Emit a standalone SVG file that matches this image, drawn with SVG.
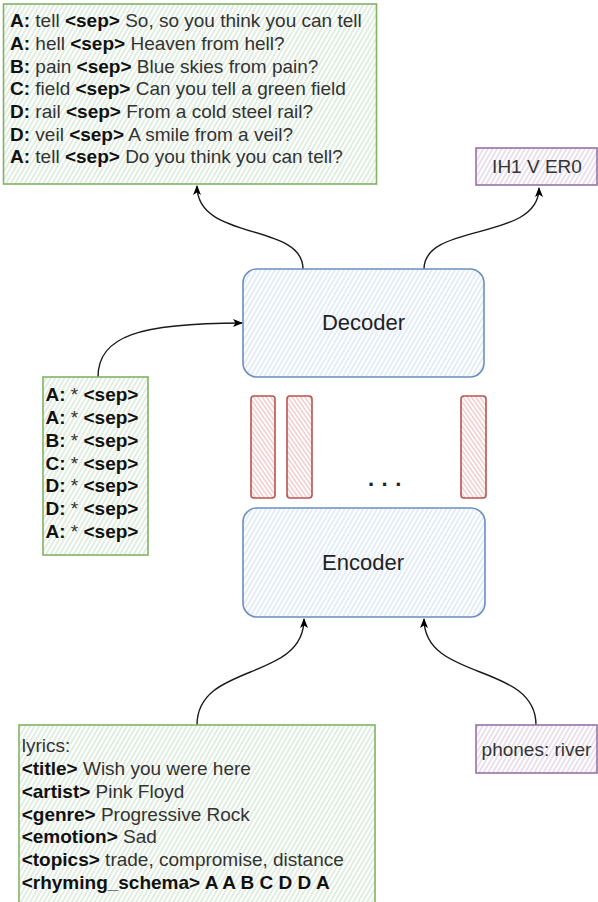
<svg xmlns="http://www.w3.org/2000/svg" width="598" height="902" viewBox="0 0 598 902">
<style>
  .t { font-family: "Liberation Sans", Arial, sans-serif; font-size: 19px; fill: #333333; }
  .b { font-weight: bold; fill: #111111; }
  .big { font-family: "Liberation Sans", Arial, sans-serif; font-size: 22px; fill: #222222; }
  .green { fill: url(#hG); stroke: #82b366; stroke-width: 1.6; }
  .blue { fill: url(#hB); stroke: #6c8ebf; stroke-width: 1.6; }
  .red { fill: url(#hR); stroke: #b85450; stroke-width: 1.6; }
  .purple { fill: url(#hP); stroke: #9673a6; stroke-width: 1.6; }
  .conn { fill: none; stroke: #1a1a1a; stroke-width: 1.4; marker-end: url(#arr); }
</style>
<defs>
  <pattern id="hG" width="4" height="10" patternUnits="userSpaceOnUse" patternTransform="rotate(30)">
    <rect width="4" height="10" fill="#ffffff"/>
    <line x1="1" y1="0" x2="1" y2="10" stroke="#c3dbc1" stroke-width="1"/>
  </pattern>
  <pattern id="hB" width="4" height="10" patternUnits="userSpaceOnUse" patternTransform="rotate(30)">
    <rect width="4" height="10" fill="#ffffff"/>
    <line x1="1" y1="0" x2="1" y2="10" stroke="#c8d9f0" stroke-width="1"/>
  </pattern>
  <pattern id="hR" width="3.5" height="10" patternUnits="userSpaceOnUse" patternTransform="rotate(-35)">
    <rect width="3.5" height="10" fill="#ffffff"/>
    <line x1="1" y1="0" x2="1" y2="10" stroke="#eeb9b7" stroke-width="1.1"/>
  </pattern>
  <pattern id="hP" width="4" height="10" patternUnits="userSpaceOnUse" patternTransform="rotate(30)">
    <rect width="4" height="10" fill="#ffffff"/>
    <line x1="1" y1="0" x2="1" y2="10" stroke="#d2c3da" stroke-width="1"/>
  </pattern>
  <marker id="arr" viewBox="0 0 10 8" refX="9" refY="4" markerWidth="10" markerHeight="8" markerUnits="userSpaceOnUse" orient="auto">
    <path d="M0,0 L10,4 L0,8 L2.5,4 Z" fill="#000000"/>
  </marker>
</defs>

<g id="connectors">
  <path class="conn" d="M303,269 C303,222 197,242 197,186"/>
  <path class="conn" d="M424,269 C424,222 539,242 539,188"/>
  <path class="conn" d="M98,377 C98,336 140,323 242,323"/>
  <path class="conn" d="M197,725 C197,662 304,682 304,619"/>
  <path class="conn" d="M536,725 C536,662 424,682 424,619"/>
</g>

<g id="output-lyrics">
  <rect class="green" x="3.5" y="4" width="373" height="180"/>
  <text class="t" x="10" y="27.3"><tspan class="b">A:</tspan> tell <tspan class="b">&lt;sep&gt;</tspan> So, so you think you can tell</text>
  <text class="t" x="10" y="50"><tspan class="b">A:</tspan> hell <tspan class="b">&lt;sep&gt;</tspan> Heaven from hell?</text>
  <text class="t" x="10" y="72.6"><tspan class="b">B:</tspan> pain <tspan class="b">&lt;sep&gt;</tspan> Blue skies from pain?</text>
  <text class="t" x="10" y="95.3"><tspan class="b">C:</tspan> field <tspan class="b">&lt;sep&gt;</tspan> Can you tell a green field</text>
  <text class="t" x="10" y="118"><tspan class="b">D:</tspan> rail <tspan class="b">&lt;sep&gt;</tspan> From a cold steel rail?</text>
  <text class="t" x="10" y="140.6"><tspan class="b">D:</tspan> veil <tspan class="b">&lt;sep&gt;</tspan> A smile from a veil?</text>
  <text class="t" x="10" y="163.3"><tspan class="b">A:</tspan> tell <tspan class="b">&lt;sep&gt;</tspan> Do you think you can tell?</text>
</g>

<g id="output-phones">
  <rect class="purple" x="476" y="148" width="121" height="37"/>
  <text class="t" x="537" y="173" text-anchor="middle">IH1 V ER0</text>
</g>

<g id="decoder">
  <rect class="blue" x="243" y="269" width="241" height="108" rx="14"/>
  <text class="big" x="363.5" y="329.5" text-anchor="middle">Decoder</text>
</g>

<g id="decoder-input">
  <rect class="green" x="43" y="377" width="105" height="178"/>
  <text class="t" x="45.5" y="400.7"><tspan class="b">A:</tspan> * <tspan class="b">&lt;sep&gt;</tspan></text>
  <text class="t" x="45.5" y="423.6"><tspan class="b">A:</tspan> * <tspan class="b">&lt;sep&gt;</tspan></text>
  <text class="t" x="45.5" y="446.5"><tspan class="b">B:</tspan> * <tspan class="b">&lt;sep&gt;</tspan></text>
  <text class="t" x="45.5" y="469.5"><tspan class="b">C:</tspan> * <tspan class="b">&lt;sep&gt;</tspan></text>
  <text class="t" x="45.5" y="492.4"><tspan class="b">D:</tspan> * <tspan class="b">&lt;sep&gt;</tspan></text>
  <text class="t" x="45.5" y="515.4"><tspan class="b">D:</tspan> * <tspan class="b">&lt;sep&gt;</tspan></text>
  <text class="t" x="45.5" y="538.3"><tspan class="b">A:</tspan> * <tspan class="b">&lt;sep&gt;</tspan></text>
</g>

<g id="hidden-states">
  <rect class="red" x="251" y="396" width="24" height="102" rx="3"/>
  <rect class="red" x="287" y="396" width="25" height="102" rx="3"/>
  <rect class="red" x="461" y="396" width="25" height="102" rx="3"/>
  <text class="big" x="368" y="486" letter-spacing="7.5" style="font-weight:bold">...</text>
</g>

<g id="encoder">
  <rect class="blue" x="243" y="508" width="242" height="109" rx="14"/>
  <text class="big" x="363" y="570" text-anchor="middle">Encoder</text>
</g>

<g id="input-lyrics">
  <rect class="green" x="19" y="725" width="356" height="190"/>
  <text class="t" x="21.7" y="751.7">lyrics:</text>
  <text class="t" x="21.7" y="774.6"><tspan class="b">&lt;title&gt;</tspan> Wish you were here</text>
  <text class="t" x="21.7" y="797.5"><tspan class="b">&lt;artist&gt;</tspan> Pink Floyd</text>
  <text class="t" x="21.7" y="820.5"><tspan class="b">&lt;genre&gt;</tspan> Progressive Rock</text>
  <text class="t" x="21.7" y="843.4"><tspan class="b">&lt;emotion&gt;</tspan> Sad</text>
  <text class="t" x="21.7" y="866.4"><tspan class="b">&lt;topics&gt;</tspan> trade, compromise, distance</text>
  <text class="t" x="21.7" y="889.3"><tspan class="b">&lt;rhyming_schema&gt; A A B C D D A</tspan></text>
</g>

<g id="input-phones">
  <rect class="purple" x="476" y="725" width="121" height="48"/>
  <text class="t" x="536.5" y="756" text-anchor="middle">phones: river</text>
</g>
</svg>
